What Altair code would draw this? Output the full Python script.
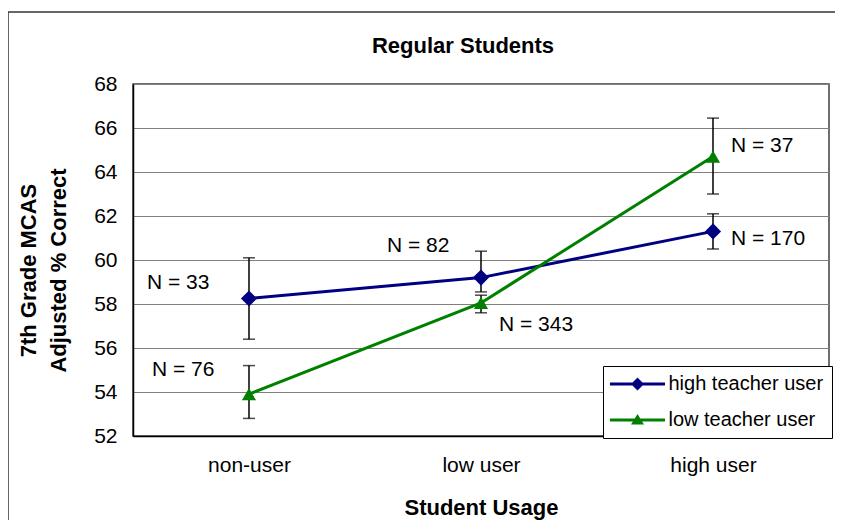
import altair as alt
import pandas as pd

usage = ["non-user", "low user", "high user"]
series = ["high teacher user", "low teacher user"]
colors = ["#000080", "#008000"]

high_mean = [58.25, 59.2, 61.3]
high_lo = [56.4, 58.55, 60.5]
high_hi = [60.1, 60.4, 62.1]
high_n = [33, 82, 170]

low_mean = [53.9, 58.05, 64.7]
low_lo = [52.8, 57.6, 63.0]
low_hi = [55.2, 58.4, 66.45]
low_n = [76, 343, 37]

chart_title = "Regular Students"

rows = []
for i, u in enumerate(usage):
    rows.append(dict(usage=u, series=series[0], mean=high_mean[i], lo=high_lo[i], hi=high_hi[i], n=high_n[i]))
for i, u in enumerate(usage):
    rows.append(dict(usage=u, series=series[1], mean=low_mean[i], lo=low_lo[i], hi=low_hi[i], n=low_n[i]))
df = pd.DataFrame(rows)
df["label"] = "N = " + df["n"].astype(str)

# label offsets (layout only)
label_offsets = {
    (series[0], "non-user"): (-102, -16),
    (series[1], "non-user"): (-97, -24),
    (series[0], "low user"): (-94, -32),
    (series[1], "low user"): (18, 22),
    (series[1], "high user"): (18, -11),
    (series[0], "high user"): (18, 8),
}

FONT = "Liberation Sans"
FS = 21

x_enc = alt.X("usage:N", sort=usage,
              scale=alt.Scale(type="point", padding=0.5),
              axis=alt.Axis(title="Student Usage", labelAngle=0, ticks=False,
                            labelFontSize=FS, labelPadding=18, titleFontSize=22,
                            titleFontWeight="bold", titlePadding=22,
                            domainColor="black", domainWidth=1.5, grid=False,
                            labelColor="black", titleColor="black"))
y_scale = alt.Scale(domain=[52, 68], nice=False, zero=False)
y_enc = alt.Y("mean:Q", scale=y_scale,
              axis=alt.Axis(values=list(range(52, 69, 2)), ticks=False,
                            title=["7th Grade MCAS", "Adjusted % Correct"],
                            titleFontSize=22, titleFontWeight="bold",
                            titleLineHeight=30, titleX=-105, titleY=186,
                            titleAngle=270, titleAlign="center",
                            titleBaseline="middle",
                            labelFontSize=FS, labelPadding=16,
                            domainColor="black", domainWidth=1.5,
                            gridColor="#808080", gridWidth=1,
                            labelColor="black", titleColor="black"))

path_high = "M-2.75,-0.15L2.75,-0.15L2.75,0.15L-2.75,0.15Z M0,-0.65L0.65,0L0,0.65L-0.65,0Z"
path_low = "M-2.75,-0.15L2.75,-0.15L2.75,0.15L-2.75,0.15Z M0,-0.6L0.65,0.45L-0.65,0.45Z"

legend = alt.Legend(title=None, orient="none", legendX=470, legendY=282,
                    symbolSize=400, symbolOffset=16.5, labelOffset=21,
                    labelFontSize=20, labelLimit=0, strokeColor="black", fillColor="white",
                    padding=8, rowPadding=16, symbolStrokeWidth=0,
                    labelColor="black", labelFont=FONT)

color_enc = alt.Color("series:N", scale=alt.Scale(domain=series, range=colors), legend=legend)
shape_enc = alt.Shape("series:N", scale=alt.Scale(domain=series, range=[path_high, path_low]),
                      legend=legend)

base = alt.Chart(df)

lines = base.mark_line(strokeWidth=3).encode(
    x=x_enc, y=y_enc, color=color_enc, detail="series:N")

rules = base.mark_rule(color="black", strokeWidth=1.5).encode(
    x=alt.X("usage:N", sort=usage), y="lo:Q", y2="hi:Q")
caps_lo = base.mark_tick(color="black", size=12, thickness=1.5, orient="horizontal").encode(
    x=alt.X("usage:N", sort=usage), y="lo:Q")
caps_hi = base.mark_tick(color="black", size=12, thickness=1.5, orient="horizontal").encode(
    x=alt.X("usage:N", sort=usage), y="hi:Q")

pts_high = base.transform_filter(alt.datum.series == series[0]).mark_point(
    shape="diamond", filled=True, size=260, opacity=1).encode(
    x=alt.X("usage:N", sort=usage), y="mean:Q", color=color_enc)
pts_low = base.transform_filter(alt.datum.series == series[1]).mark_point(
    shape="triangle-up", filled=True, size=200, opacity=1).encode(
    x=alt.X("usage:N", sort=usage), y="mean:Q", color=color_enc)

legend_layer = base.mark_point(filled=True, opacity=1, size=0.01).encode(
    x=alt.X("usage:N", sort=usage), y="mean:Q", color=color_enc, shape=shape_enc)

text_layers = []
for (s, u), (dx, dy) in label_offsets.items():
    text_layers.append(
        base.transform_filter((alt.datum.series == s) & (alt.datum.usage == u))
        .mark_text(align="left", baseline="middle", dx=dx, dy=dy, fontSize=FS,
                   font=FONT, color="black")
        .encode(x=alt.X("usage:N", sort=usage), y="mean:Q", text="label:N")
    )

one = alt.Data(values=[{}])
title_mark = alt.Chart(one).mark_text(
    text=chart_title, fontSize=22, fontWeight="bold", font=FONT, color="black",
    align="center", baseline="alphabetic").encode(x=alt.value(330), y=alt.value(-31))
frame_left = alt.Chart(one).mark_rule(stroke="#333333", strokeWidth=1.5).encode(
    x=alt.value(-125), y=alt.value(-72), y2=alt.value(900))
frame_top = alt.Chart(one).mark_rule(stroke="#333333", strokeWidth=1.5).encode(
    y=alt.value(-72), x=alt.value(-125), x2=alt.value(720))

chart = alt.layer(lines, rules, caps_lo, caps_hi, pts_high, pts_low,
                  *text_layers, legend_layer, title_mark, frame_left, frame_top).properties(
    width=696, height=352,
    autosize=alt.AutoSizeParams(type="none"),
    padding={"left": 125, "top": 76, "right": 6, "bottom": 84},
).configure(font=FONT).configure_view(stroke="#404040", strokeWidth=1.5)

chart.save("out.html", embed_options={"renderer": "svg", "actions": False})
